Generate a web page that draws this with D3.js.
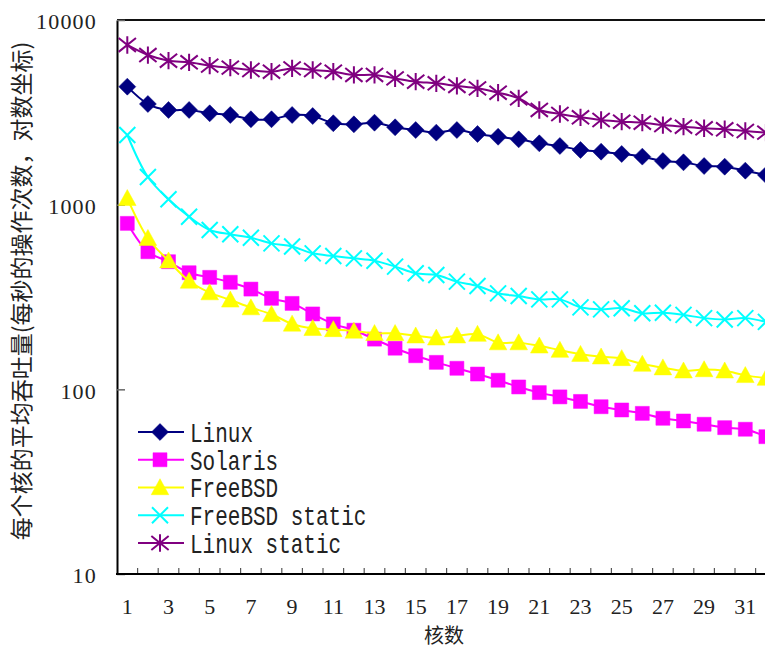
<!DOCTYPE html>
<html><head><meta charset="utf-8">
<script src="https://cdn.jsdelivr.net/npm/d3@7"></script>
<style>html,body{margin:0;padding:0;background:#fff;overflow:hidden}</style>
</head><body>
<svg id="c" width="765" height="649"></svg>
<script>
const cores = d3.range(1, 33);
const xTickLabels = [1,3,5,7,9,11,13,15,17,19,21,23,25,27,29,31];
const yTickValues = [10,100,1000,10000];
const linux = [4355,3508,3257,3257,3124,3060,2900,2900,3060,3020,2760,2722,2779,2624,2536,2455,2536,2414,2332,2258,2149,2078,1977,1936,1881,1820,1723,1696,1619,1606,1528,1448];
const solaris = [792,556,491,428,404,380,349,311,292,256,226,209,187,167,152,140,130,121,112,103,96,91,86,80.5,77.3,74.1,69.7,67.4,64.7,62,60.8,55.4];
const freebsd = [1082,658,497,386,334,305,277,255,226,214,211,207,201,201,195,190,195,199,179,179,172,163,155,150,147,137,131,126,128,126,119,115];
const freebsdStatic = [2384,1411,1069,861,729,691,662,617,593,545,527,512,497,462,425,416,383,363,331,320,307,307,278,271,275,258,260,253,243,239,243,232];
const linuxStatic = [7324,6460,6020,5900,5660,5520,5360,5250,5470,5360,5250,5040,5040,4830,4635,4540,4395,4265,4040,3767,3257,3097,2972,2874,2814,2779,2699,2644,2592,2560,2506,2455];
const seriesNames = ["Linux","Solaris","FreeBSD","FreeBSD static","Linux static"];
const yTitle = "每个核的平均吞吐量(每秒的操作次数，对数坐标)";
const xTitle = "核数";

const svg = d3.select("#c");
const plotLeft = 117, plotTop = 20, plotBottom = 574, bandW = 20.6;
const x = d3.scaleBand().domain(cores).range([plotLeft, plotLeft + bandW * cores.length]);
const y = d3.scaleLog().domain([10, 10000]).range([plotBottom, plotTop]);

// custom marker shapes
const diamond = {draw(ctx, s){ const r = Math.sqrt(s)/2*1.414; ctx.moveTo(0,-r); ctx.lineTo(r,0); ctx.lineTo(0,r); ctx.lineTo(-r,0); ctx.closePath(); }};
const square = {draw(ctx, s){ const r = Math.sqrt(s)/2; ctx.rect(-r,-r,2*r,2*r); }};
const tri = {draw(ctx, s){ const h = Math.sqrt(s); ctx.moveTo(0,-h*0.55); ctx.lineTo(h*0.55,h*0.45); ctx.lineTo(-h*0.55,h*0.45); ctx.closePath(); }};
const xmark = {draw(ctx, s){ const r = Math.sqrt(s)/2; ctx.moveTo(-r,-r); ctx.lineTo(r,r); ctx.moveTo(-r,r); ctx.lineTo(r,-r); }};
const star = {draw(ctx, s){ const r = Math.sqrt(s)/2; ctx.moveTo(-r,-r*0.8); ctx.lineTo(r,r*0.8); ctx.moveTo(-r,r*0.8); ctx.lineTo(r,-r*0.8); ctx.moveTo(0,-r); ctx.lineTo(0,r); }};

const series = [
  {name: seriesNames[0], values: linux, color: "#000080", sym: diamond, size: 144, fill: true},
  {name: seriesNames[1], values: solaris, color: "#FF00FF", sym: square, size: 196, fill: true},
  {name: seriesNames[2], values: freebsd, color: "#FFFF00", sym: tri, size: 256, fill: true},
  {name: seriesNames[3], values: freebsdStatic, color: "#00FFFF", sym: xmark, size: 256, fill: false},
  {name: seriesNames[4], values: linuxStatic, color: "#800080", sym: star, size: 300, fill: false}
];

// frame
svg.append("line").attr("x1", plotLeft).attr("x2", 800).attr("y1", plotTop).attr("y2", plotTop)
  .attr("stroke", "#111").attr("stroke-width", 2);

// y axis
const yAxis = d3.axisLeft(y).tickValues(yTickValues).tickFormat(d3.format("d"))
  .tickSizeInner(-8).tickSizeOuter(0).tickPadding(20);
const gy = svg.append("g").attr("transform", `translate(${plotLeft},0)`).call(yAxis);
gy.select(".domain").attr("stroke", "#000").attr("stroke-width", 2);
gy.selectAll(".tick line").attr("stroke", "#666").attr("stroke-width", 1.5);
gy.selectAll(".tick text").attr("font-family", "Liberation Serif").attr("font-size", 22)
  .attr("fill", "#222").attr("dy", "0.4em").attr("letter-spacing", 1.2);

// x axis
const xAxis = d3.axisBottom(x).tickValues(xTickLabels).tickSize(0).tickPadding(24);
const gx = svg.append("g").attr("transform", `translate(0,${plotBottom})`).call(xAxis);
gx.select(".domain").remove();
gx.selectAll(".tick text").attr("font-family", "Liberation Serif").attr("font-size", 22).attr("fill", "#222");
gx.selectAll(".btick").data(cores.slice(1).concat([33])).join("line").attr("class","btick")
  .attr("x1", d => d <= 32 ? x(d) : x(32) + x.bandwidth()).attr("x2", d => d <= 32 ? x(d) : x(32) + x.bandwidth())
  .attr("y1", 0).attr("y2", -6).attr("stroke", "#555").attr("stroke-width", 1.2);
svg.append("line").attr("x1", plotLeft - 1).attr("x2", 800).attr("y1", plotBottom).attr("y2", plotBottom)
  .attr("stroke", "#000").attr("stroke-width", 2);

// series
const line = d3.line().x((d,i) => x(cores[i]) + x.bandwidth()/2).y(d => y(d)).curve(d3.curveCatmullRom.alpha(0.5));
series.forEach(s => {
  const g = svg.append("g");
  g.append("path").attr("d", line(s.values)).attr("fill", "none").attr("stroke", s.color).attr("stroke-width", 2);
  g.selectAll("path.m").data(s.values).join("path").attr("class","m")
    .attr("transform", (d,i) => `translate(${x(cores[i]) + x.bandwidth()/2},${y(d)})`)
    .attr("d", d3.symbol().type(s.sym).size(s.size))
    .attr("fill", s.fill ? s.color : "none")
    .attr("stroke", s.color).attr("stroke-width", s.fill ? 0.5 : 2);
});

// legend
const legY = d3.scalePoint().domain(seriesNames).range([432, 543]);
const leg = svg.append("g");
series.forEach(s => {
  const yy = legY(s.name);
  leg.append("line").attr("x1", 138).attr("x2", 184).attr("y1", yy).attr("y2", yy).attr("stroke", s.color).attr("stroke-width", 2);
  leg.append("path").attr("transform", `translate(160,${yy})`).attr("d", d3.symbol().type(s.sym).size(s.size))
    .attr("fill", s.fill ? s.color : "none").attr("stroke", s.color).attr("stroke-width", s.fill ? 0.5 : 2);
  leg.append("text").attr("x", 190).attr("y", yy).attr("dy", "0.36em")
    .attr("font-family", "Liberation Mono").attr("font-size", 21).attr("fill", "#222")
    .attr("transform", `translate(0,${yy}) scale(1,1.3) translate(0,${-yy})`)
    .text(s.name);
});

// titles
svg.append("text").attr("transform", "translate(30,291) rotate(-90)").attr("text-anchor", "middle")
  .attr("font-family", "Noto Sans CJK SC").attr("font-size", 23).attr("fill", "#222").text(yTitle);
svg.append("text").attr("x", 444).attr("y", 643).attr("text-anchor", "middle")
  .attr("font-family", "Noto Sans CJK SC").attr("font-size", 20).attr("fill", "#222").text(xTitle);
</script>
</body></html>
